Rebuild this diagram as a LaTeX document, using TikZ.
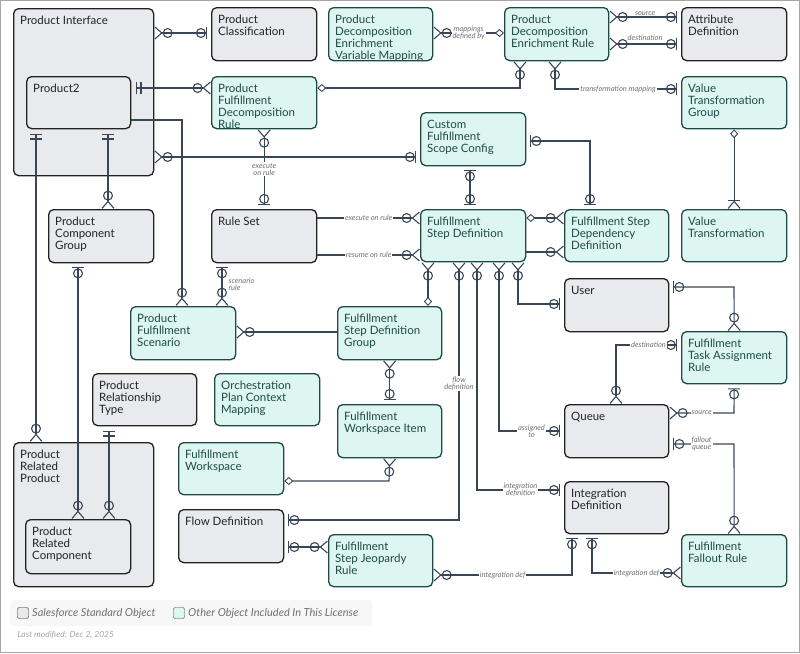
\documentclass[tikz,border=0pt]{standalone}
\usepackage{fontspec}
\setmainfont{Lato}
\usetikzlibrary{arrows.meta}
\definecolor{stdfill}{HTML}{E8EAEE}
\definecolor{licfill}{HTML}{DDF6F2}
\definecolor{licdraw}{HTML}{1E4A45}
\definecolor{stddraw}{HTML}{222222}
\definecolor{wire}{HTML}{3A4656}
\definecolor{note}{HTML}{707070}
\tikzset{
  zm/.tip={Circle[open,length=10pt,width=10pt,line width=1.1pt] Straight Barb[reversed,length=7pt,width=12pt,line width=1.1pt]},
  zo/.tip={Circle[open,length=10pt,width=10pt,line width=1.1pt] Bar[width=12pt,line width=1.1pt,sep=4pt]},
  oo/.tip={Bar[width=12pt,line width=1.1pt,sep=3pt] Bar[width=12pt,line width=1.1pt,sep=5pt]},
  om/.tip={Bar[width=12pt,line width=1.1pt,sep=0pt] Straight Barb[reversed,length=7pt,width=12pt,line width=1.1pt]},
  dm/.tip={Diamond[open,length=9pt,width=8pt,line width=.9pt]},
  box/.style={draw, line width=1.3pt, rounded corners=5pt, anchor=north west,
    minimum width=105pt, minimum height=53pt, inner sep=0pt},
  std/.style={box, fill=stdfill, draw=stddraw,
    label={[title, text=stddraw]north west:#1}},
  lic/.style={box, fill=licfill, draw=licdraw,
    label={[title, text=licdraw]north west:#1}},
  title/.style={anchor=north west, xshift=7pt, yshift=-8pt, align=left,
    font=\fontsize{11.5}{11.8}\selectfont, inner sep=0pt},
  rl/.style={font=\fontsize{7.5}{7}\selectfont\itshape, text=note, fill=white,
    inner sep=1pt, align=center},
  link/.style={draw=wire, line width=1.1pt},
}
\begin{document}
\begin{tikzpicture}[x=1pt,y=-1pt]
\useasboundingbox (0,0) rectangle (800,653);
\draw[gray!70, line width=.8pt] (0.5,0.5) rectangle (799.5,652.5);

% standard and license objects
\node [std={Product Interface}, minimum width=140pt, minimum height=167pt] (pi) at (13,8) {};
\node [std={Product2}, minimum width=104pt, minimum height=52pt] (p2) at (26,76) {};
\node [std={Product\\Classification}] (pc) at (211,7) {};
\node [lic={Product\\Decomposition\\Enrichment\\Variable Mapping}, minimum width=104pt] (pdevm) at (328,7) {};
\node [lic={Product\\Decomposition\\Enrichment Rule}, minimum width=104pt] (pder) at (504,7) {};
\node [std={Attribute\\Definition}] (ad) at (681,7) {};
\node [lic={Product\\Fulfillment\\Decomposition\\Rule}, minimum height=52pt] (pfdr) at (211,76) {};
\node [lic={Value\\Transformation\\Group}, minimum height=52pt] (vtg) at (681,76) {};
\node [lic={Custom\\Fulfillment\\Scope Config}] (cfsc) at (420,112) {};
\node [std={Rule Set}] (rs) at (211,209) {};
\node [std={Product\\Component\\Group}] (pcg) at (48,209) {};
\node [lic={Fulfillment\\Step Definition}, minimum height=52pt] (fsd) at (420,209) {};
\node [lic={Fulfillment Step\\Dependency\\Definition}, minimum width=104pt, minimum height=52pt] (fsdd) at (564,209) {};
\node [lic={Value\\Transformation}, minimum height=52pt] (vt) at (681,209) {};
\node [std={User}, minimum width=104pt] (user) at (564,278) {};
\node [lic={Product\\Fulfillment\\Scenario}] (pfs) at (130,306) {};
\node [lic={Fulfillment\\Step Definition\\Group}, minimum width=104pt] (fsdg) at (337,306) {};
\node [lic={Fulfillment\\Task Assignment\\Rule}, minimum height=52pt] (ftar) at (681,331) {};
\node [std={Product\\Relationship\\Type}, minimum width=104pt, minimum height=52pt] (prt) at (92,373) {};
\node [lic={Orchestration\\Plan Context\\Mapping}, minimum height=52pt] (opcm) at (214,373) {};
\node [lic={Fulfillment\\Workspace Item}, minimum width=104pt] (fwi) at (337,404) {};
\node [std={Queue}, minimum width=104pt] (queue) at (564,404) {};
\node [std={Product\\Related\\Product}, minimum width=140pt, minimum height=144pt] (prp) at (13,442) {};
\node [std={Product\\Related\\Component}, minimum height=54pt] (prc) at (25,519) {};
\node [lic={Fulfillment\\Workspace}, minimum height=52pt] (fw) at (178,442) {};
\node [std={Integration\\Definition}, minimum width=104pt, minimum height=52pt] (intd) at (564,481) {};
\node [std={Flow Definition}] (flow) at (178,509) {};
\node [lic={Fulfillment\\Step Jeopardy\\Rule}, minimum width=104pt, minimum height=52pt] (fsjr) at (328,534) {};
\node [lic={Fulfillment\\Fallout Rule}, minimum height=52pt] (ffr) at (681,534) {};

% relationships
\path [link, {zm}-{zo}] (pi.east|-0,33) -- (pc.west|-0,33);
\path [link, {oo}-{zm}] (p2.east|-0,88) -- (pfdr.west|-0,88);
\path [link, {dm}-{zm}] (pfdr.east|-0,88) -- (520,88) -- (pder.south-|520,0);
\path [link, {zm}-{dm}] (pdevm.east|-0,33) -- node[rl]{mappings\\defined by} (pder.west|-0,33);
\path [link, {zm}-{zo}] (pder.east|-0,17) -- node[rl,above]{source} (ad.west|-0,17);
\path [link, {zm}-{zo}] (pder.east|-0,44) -- node[rl,above=2pt]{destination} (ad.west|-0,44);
\path [link, {zm}-{zo}] (pder.south-|555,0) -- (555,89) -- node[rl]{transformation mapping} (vtg.west|-0,89);
\path [link, {dm}-{om}] (vtg.south) -- (vt.north);
\path [link, {zm}-{zo}] (pi.east|-0,157) -- (cfsc.west|-0,157);
\path [link, {zm}-{zo}] (pfdr.south) -- node[rl]{execute\\on rule} (rs.north);
\path [link, {zo}-{zo}] (cfsc.south-|470,0) -- (fsd.north-|470,0);
\path [link, {zo}-{zo}] (cfsc.east|-0,141) -- (590,141) -- (fsdd.north-|590,0);
\path [link, -{zm}] (rs.east|-0,218) -- node[rl]{execute on rule} (fsd.west|-0,218);
\path [link, -{zm}] (rs.east|-0,255) -- node[rl]{resume on rule} (fsd.west|-0,255);
\path [link, {dm}-{zm}] (fsd.east|-0,218) -- (fsdd.west|-0,218);
\path [link, -{zm}] (fsd.east|-0,252) -- (fsdd.west|-0,252);
\path [link, {oo}-{zm}] (p2.south-|36,0) -- (prp.north-|36,0);
\path [link, {oo}-{zm}] (p2.south-|108,0) -- (pcg.north-|108,0);
\path [link, {zo}-{zm}] (pcg.south-|78,0) -- (prc.north-|78,0);
\path [link, -{zm}] (p2.east|-0,120) -- (182,120) -- (pfs.north-|182,0);
\path [link, {zo}-{zm}] (rs.south-|222,0) -- node[rl,fill=none,right=5pt,align=left]{scenario\\rule} (pfs.north-|222,0);
\path [link, {zm}-] (pfs.east|-0,332) -- (fsdg.west|-0,332);
\path [link, {zm}-{zo}] (fsdg.south) -- (fwi.north);
\path [link, {zm}-{dm}] (fsd.south-|428,0) -- (fsdg.north-|428,0);
\path [link, {zm}-{zo}] (fsd.south-|459,0) -- node[rl,pos=.47]{flow\\definition} (459,520) -- (flow.east|-0,520);
\path [link, {zm}-{zo}] (fsd.south-|477,0) -- (477,490) -- node[rl]{integration\\definition} (intd.west|-0,490);
\path [link, {zm}-{zo}] (fsd.south-|499,0) -- (499,431) -- node[rl]{assigned\\to} (queue.west|-0,431);
\path [link, {zm}-{zo}] (fsd.south-|518,0) -- (518,304) -- (user.west|-0,304);
\path [link, {oo}-{zm}] (prt.south-|109,0) -- (prc.north-|109,0);
\path [link, {zm}-{dm}] (fwi.south) -- (389,481) -- (fw.east|-0,481);
\path [link, {zo}-{zm}] (flow.east|-0,547) -- (fsjr.west|-0,547);
\path [link, {zo}-{zm}] (user.east|-0,287) -- (734,287) -- (ftar.north);
\path [link, {zo}-{zm}] (ftar.west|-0,345) -- node[rl]{destination} (616,345) -- (queue.north-|616,0);
\path [link, {zm}-{zo}] (queue.east|-0,413) -- node[rl]{source} (734,413) -- (ftar.south);
\path [link, {zo}-{zm}] (queue.east|-0,444) -- node[rl]{fallout\\queue} (734,444) -- (ffr.north);
\path [link, {zo}-{zm}] (intd.south-|572,0) -- (572,575) -- node[rl]{integration def} (fsjr.east|-0,575);
\path [link, {zo}-{zm}] (intd.south-|592,0) -- (592,573) -- node[rl]{integration def} (ffr.west|-0,573);

% legend
\node [fill=black!3, rounded corners=3pt, anchor=north west, minimum width=362pt, minimum height=26pt] (legend) at (10,600) {};
\node [draw=stddraw, fill=stdfill, rounded corners=2pt, minimum size=11pt, inner sep=0pt] (lgstd) at (23,613) {};
\node [anchor=west, font=\fontsize{11}{11}\selectfont\itshape, text=note] (lgstdt) at (lgstd.east) {Salesforce Standard Object};
\node [draw=licdraw, fill=licfill, rounded corners=2pt, minimum size=11pt, inner sep=0pt] (lglic) at (179,613) {};
\node [anchor=west, font=\fontsize{11}{11}\selectfont\itshape, text=note] (lglict) at (lglic.east) {Other Object Included In This License};
\node [anchor=west, font=\fontsize{8.5}{8.5}\selectfont\itshape, text=black!35] (modified) at (14,635) {Last modified: Dec 2, 2025};
\end{tikzpicture}
\end{document}
